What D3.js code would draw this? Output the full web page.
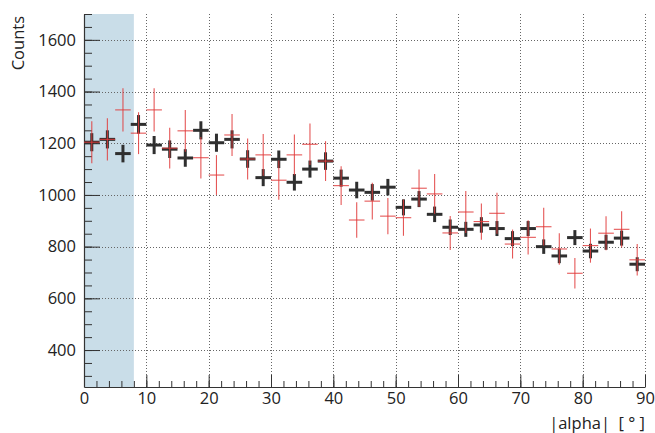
<!DOCTYPE html>
<html>
<head>
<meta charset="utf-8">
<script src="https://cdn.jsdelivr.net/npm/d3@7"></script>
<style>
  html, body { margin: 0; padding: 0; background: #fff; }
  svg { display: block; }
  text { font-family: "Open Sans", "DejaVu Sans", sans-serif; fill: #222; }
</style>
</head>
<body>
<svg id="chart" width="655" height="433"></svg>
<script>
// ---- data ----
const binEdges = [0, 90];
const binWidth = 2.5;
const binCenters = [1.25, 3.75, 6.25, 8.75, 11.25, 13.75, 16.25, 18.75, 21.25, 23.75,
  26.25, 28.75, 31.25, 33.75, 36.25, 38.75, 41.25, 43.75, 46.25, 48.75,
  51.25, 53.75, 56.25, 58.75, 61.25, 63.75, 66.25, 68.75, 71.25, 73.75,
  76.25, 78.75, 81.25, 83.75, 86.25, 88.75];
const dataValues = [1204, 1215, 1160, 1273, 1193, 1177, 1143, 1250, 1202, 1215,
  1139, 1067, 1138, 1049, 1100, 1131, 1065, 1019, 1010, 1030,
  952, 984, 925, 875, 867, 884, 870, 831, 870, 800,
  764, 835, 783, 817, 833, 732];
const dataErrors = [35, 35, 34, 36, 35, 34, 34, 35, 35, 35,
  34, 33, 34, 32, 33, 34, 33, 32, 32, 32,
  31, 31, 30, 30, 29, 30, 29, 29, 29, 28,
  28, 29, 28, 29, 29, 27];
const redValues = [1204, 1215, 1329, 1239, 1329, 1181, 1248, 1144, 1077, 1232,
  1139, 1155, 1057, 1155, 1196, 1131, 1036, 903, 976, 918,
  912, 1026, 1004, 853, 934, 897, 929, 810, 836, 877,
  791, 697, 804, 852, 867, 749];
const redErrors = [81, 82, 84, 81, 84, 79, 81, 80, 77, 81,
  79, 81, 76, 79, 80, 77, 75, 69, 71, 70,
  70, 72, 77, 66, 81, 70, 79, 56, 66, 73,
  61, 59, 66, 66, 70, 61];
const shadedRange = [0, 8];
const yDomain = [257, 1700];
const xTicks = [0, 10, 20, 30, 40, 50, 60, 70, 80, 90];
const yTicks = [400, 600, 800, 1000, 1200, 1400, 1600];
const xTitle = "|alpha|  [ ° ]";
const yTitle = "Counts";

// ---- layout ----
const svg = d3.select("#chart");
const L = 84, R = 645, T = 14, B = 387;
const x = d3.scaleLinear().domain(binEdges).range([L, R]);
const y = d3.scaleLinear().domain(yDomain).range([B, T]);
const fmt = d3.format("d");

// shaded band
svg.append("rect")
  .attr("x", x(shadedRange[0])).attr("y", T)
  .attr("width", x(shadedRange[1]) - x(shadedRange[0]))
  .attr("height", B - T)
  .attr("fill", "#c9dde8");

// grid
const grid = svg.append("g").attr("stroke", "#666").attr("stroke-width", 1)
  .attr("stroke-dasharray", "1,2");
xTicks.filter(v => v > 0).forEach(v => {
  grid.append("line").attr("x1", Math.round(x(v)) + 0.5).attr("x2", Math.round(x(v)) + 0.5)
    .attr("y1", T).attr("y2", B);
});
yTicks.forEach(v => {
  grid.append("line").attr("y1", Math.round(y(v)) + 0.5).attr("y2", Math.round(y(v)) + 0.5)
    .attr("x1", L).attr("x2", R);
});

// axes
const yMinor = d3.range(300, 1701, 50);
const xMinor = d3.range(0, 90.1, 2);
svg.append("g").attr("transform", `translate(${L},0)`)
  .call(d3.axisLeft(y).tickValues(yMinor).tickSize(-8).tickSizeOuter(0).tickFormat(""))
  .call(g => g.select(".domain").remove())
  .call(g => g.selectAll("line").attr("stroke", "#333"));
svg.append("g").attr("transform", `translate(${L},0)`)
  .call(d3.axisLeft(y).tickValues(yTicks).tickSize(-16).tickSizeOuter(0).tickPadding(8).tickFormat(fmt))
  .call(g => g.select(".domain").attr("stroke", "#333").attr("stroke-width", 1.2))
  .call(g => g.selectAll("line").attr("stroke", "#333"))
  .call(g => g.selectAll("text").style("font-size", "16.5px").attr("fill", "#222"));
svg.append("g").attr("transform", `translate(0,${B})`)
  .call(d3.axisBottom(x).tickValues(xMinor).tickSize(-6).tickSizeOuter(0).tickFormat(""))
  .call(g => g.select(".domain").remove())
  .call(g => g.selectAll("line").attr("stroke", "#333"));
svg.append("g").attr("transform", `translate(0,${B})`)
  .call(d3.axisBottom(x).tickValues(xTicks).tickSize(-12).tickSizeOuter(0).tickPadding(5).tickFormat(fmt))
  .call(g => g.select(".domain").attr("stroke", "#333").attr("stroke-width", 1.2))
  .call(g => g.selectAll("line").attr("stroke", "#333"))
  .call(g => g.selectAll("text").style("font-size", "16.5px").attr("fill", "#222"));

// titles
svg.append("text")
  .attr("transform", `translate(24,${T + 2}) rotate(-90)`)
  .attr("text-anchor", "end")
  .style("font-size", "16.5px")
  .text(yTitle);
svg.append("text")
  .attr("x", R).attr("y", 429)
  .attr("text-anchor", "end")
  .attr("xml:space", "preserve")
  .style("white-space", "pre")
  .style("font-size", "16.5px")
  .text(xTitle);

// data (thick dark crosses)
const hw = (x(binWidth) - x(0)) / 2;
const dataG = svg.append("g").attr("stroke", "#2f2f2f").attr("stroke-width", 3);
binCenters.forEach((c, i) => {
  const cx = x(c), cy = y(dataValues[i]);
  dataG.append("line").attr("x1", cx - hw).attr("x2", cx + hw).attr("y1", cy).attr("y2", cy);
  dataG.append("line").attr("x1", cx).attr("x2", cx)
    .attr("y1", y(dataValues[i] - dataErrors[i])).attr("y2", y(dataValues[i] + dataErrors[i]));
});

// red crosses
const redG = svg.append("g").attr("stroke", "#e03a3a").attr("stroke-width", 1.1).attr("stroke-opacity", 0.85);
binCenters.forEach((c, i) => {
  const cx = x(c), cy = y(redValues[i]);
  redG.append("line").attr("x1", cx - hw).attr("x2", cx + hw).attr("y1", cy).attr("y2", cy);
  redG.append("line").attr("x1", cx).attr("x2", cx)
    .attr("y1", y(redValues[i] - redErrors[i])).attr("y2", y(redValues[i] + redErrors[i]));
});
</script>
</body>
</html>
